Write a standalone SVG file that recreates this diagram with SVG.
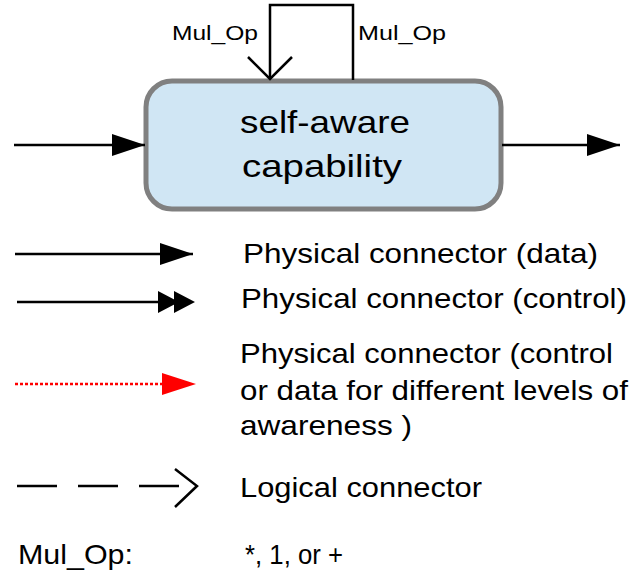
<svg xmlns="http://www.w3.org/2000/svg" width="630" height="576" viewBox="0 0 630 576">
<style>
text{font-family:"Liberation Sans",Arial,sans-serif;fill:#000}
.lbl{font-size:21px}
.big{font-size:32px}
.leg{font-size:28px}
.ln{stroke:#000;stroke-width:2.5;fill:none}
</style>
<defs>
<marker id="tri" markerWidth="34" markerHeight="24" refX="33" refY="11" orient="auto" markerUnits="userSpaceOnUse"><path d="M0,0 L33,11 L0,22 Z" fill="#000"/></marker>
</defs>
<rect width="630" height="576" fill="#fff"/>
<g id="capability">
<rect x="146" y="81" width="355" height="128" rx="26" ry="26" fill="#d0e6f4" stroke="#808080" stroke-width="5"/>
<text class="big" x="240" y="133" textLength="170" lengthAdjust="spacingAndGlyphs">self-aware</text>
<text class="big" x="242" y="177" textLength="160" lengthAdjust="spacingAndGlyphs">capability</text>
</g>
<g id="connectors">
<path class="ln" d="M353,80 V5 H270 V78"/>
<path class="ln" d="M248,57 L270,79 L292,57"/>
<line class="ln" x1="14" y1="145" x2="145" y2="145" marker-end="url(#tri)"/>
<line class="ln" x1="502" y1="145" x2="620" y2="145" marker-end="url(#tri)"/>
<text class="lbl" x="172" y="40" textLength="86" lengthAdjust="spacingAndGlyphs">Mul_Op</text>
<text class="lbl" x="358" y="40" textLength="88" lengthAdjust="spacingAndGlyphs">Mul_Op</text>
</g>
<g id="legend">
<line class="ln" x1="15" y1="254" x2="193" y2="254" marker-end="url(#tri)"/>
<line class="ln" x1="17" y1="302" x2="165" y2="302"/>
<path d="M158,291 L179,302 L158,313 Z M174,291 L195,302 L174,313 Z" fill="#000"/>
<line x1="15" y1="384" x2="164" y2="384" stroke="#f00" stroke-width="2.5" stroke-dasharray="3,2"/>
<path d="M162,373 L196,384 L162,395 Z" fill="#f00"/>
<line class="ln" x1="17" y1="486" x2="196" y2="486" stroke-dasharray="40,21"/>
<path class="ln" d="M175,469 L197,486 L175,507"/>
<text class="leg" x="243" y="263" textLength="355" lengthAdjust="spacingAndGlyphs">Physical connector (data)</text>
<text class="leg" x="241" y="308" textLength="386" lengthAdjust="spacingAndGlyphs">Physical connector (control)</text>
<text class="leg" x="240" y="363" textLength="373" lengthAdjust="spacingAndGlyphs">Physical connector (control</text>
<text class="leg" x="240" y="400" textLength="388" lengthAdjust="spacingAndGlyphs">or data for different levels of</text>
<text class="leg" x="240" y="435" textLength="172" lengthAdjust="spacingAndGlyphs">awareness )</text>
<text class="leg" x="240" y="497" textLength="242" lengthAdjust="spacingAndGlyphs">Logical connector</text>
<text class="leg" x="18" y="564" textLength="115" lengthAdjust="spacingAndGlyphs">Mul_Op:</text>
<text class="leg" x="245" y="564" textLength="98" lengthAdjust="spacingAndGlyphs">*, 1, or +</text>
</g>
</svg>
